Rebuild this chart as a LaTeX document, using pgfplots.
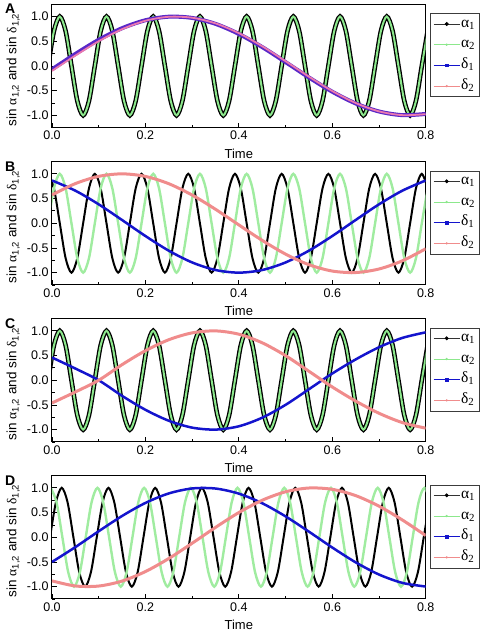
\documentclass[border=0pt]{standalone}
\usepackage{fontspec}
\setmainfont{Liberation Sans}
\newfontfamily\gr{Liberation Serif}
\usepackage{pgfplots}
\usepackage{pgfplotstable}
\pgfplotsset{compat=1.18}

\definecolor{cgreen}{RGB}{140,232,140}
\definecolor{cpale}{RGB}{160,236,160}
\definecolor{cblue}{RGB}{20,20,205}
\definecolor{cpink}{RGB}{240,140,140}
\definecolor{cmag}{RGB}{235,120,175}
\definecolor{cpurp}{RGB}{90,40,200}
\definecolor{cframe}{RGB}{60,60,60}

% alpha, phase 30 deg (s) and 120 deg (c), 10 Hz
\pgfplotstableread{
t s c
-0.00833 0 1
0.00417 0.7071 0.7071
0.01667 1 0
0.02917 0.7071 -0.7071
0.04167 0 -1
0.05417 -0.7071 -0.7071
0.06667 -1 0
0.07917 -0.7071 0.7071
0.09167 0 1
0.10417 0.7071 0.7071
0.11667 1 0
0.12917 0.7071 -0.7071
0.14167 0 -1
0.15417 -0.7071 -0.7071
0.16667 -1 0
0.17917 -0.7071 0.7071
0.19167 0 1
0.20417 0.7071 0.7071
0.21667 1 0
0.22917 0.7071 -0.7071
0.24167 0 -1
0.25417 -0.7071 -0.7071
0.26667 -1 0
0.27917 -0.7071 0.7071
0.29167 0 1
0.30417 0.7071 0.7071
0.31667 1 0
0.32917 0.7071 -0.7071
0.34167 0 -1
0.35417 -0.7071 -0.7071
0.36667 -1 0
0.37917 -0.7071 0.7071
0.39167 0 1
0.40417 0.7071 0.7071
0.41667 1 0
0.42917 0.7071 -0.7071
0.44167 0 -1
0.45417 -0.7071 -0.7071
0.46667 -1 0
0.47917 -0.7071 0.7071
0.49167 0 1
0.50417 0.7071 0.7071
0.51667 1 0
0.52917 0.7071 -0.7071
0.54167 0 -1
0.55417 -0.7071 -0.7071
0.56667 -1 0
0.57917 -0.7071 0.7071
0.59167 0 1
0.60417 0.7071 0.7071
0.61667 1 0
0.62917 0.7071 -0.7071
0.64167 0 -1
0.65417 -0.7071 -0.7071
0.66667 -1 0
0.67917 -0.7071 0.7071
0.69167 0 1
0.70417 0.7071 0.7071
0.71667 1 0
0.72917 0.7071 -0.7071
0.74167 0 -1
0.75417 -0.7071 -0.7071
0.76667 -1 0
0.77917 -0.7071 0.7071
0.79167 0 1
0.80417 0.7071 0.7071
}\alphaABC

\pgfplotstableread{
t y
-0.00417 0
0.00833 0.7071
0.02083 1
0.03333 0.7071
0.04583 0
0.05833 -0.7071
0.07083 -1
0.08333 -0.7071
0.09583 0
0.10833 0.7071
0.12083 1
0.13333 0.7071
0.14583 0
0.15833 -0.7071
0.17083 -1
0.18333 -0.7071
0.19583 0
0.20833 0.7071
0.22083 1
0.23333 0.7071
0.24583 0
0.25833 -0.7071
0.27083 -1
0.28333 -0.7071
0.29583 0
0.30833 0.7071
0.32083 1
0.33333 0.7071
0.34583 0
0.35833 -0.7071
0.37083 -1
0.38333 -0.7071
0.39583 0
0.40833 0.7071
0.42083 1
0.43333 0.7071
0.44583 0
0.45833 -0.7071
0.47083 -1
0.48333 -0.7071
0.49583 0
0.50833 0.7071
0.52083 1
0.53333 0.7071
0.54583 0
0.55833 -0.7071
0.57083 -1
0.58333 -0.7071
0.59583 0
0.60833 0.7071
0.62083 1
0.63333 0.7071
0.64583 0
0.65833 -0.7071
0.67083 -1
0.68333 -0.7071
0.69583 0
0.70833 0.7071
0.72083 1
0.73333 0.7071
0.74583 0
0.75833 -0.7071
0.77083 -1
0.78333 -0.7071
0.79583 0
0.80833 0.7071
}\alphaDone

\pgfplotstableread{
t y
-0.00278 1
0.00972 0.7071
0.02222 0
0.03472 -0.7071
0.04722 -1
0.05972 -0.7071
0.07222 0
0.08472 0.7071
0.09722 1
0.10972 0.7071
0.12222 0
0.13472 -0.7071
0.14722 -1
0.15972 -0.7071
0.17222 0
0.18472 0.7071
0.19722 1
0.20972 0.7071
0.22222 0
0.23472 -0.7071
0.24722 -1
0.25972 -0.7071
0.27222 0
0.28472 0.7071
0.29722 1
0.30972 0.7071
0.32222 0
0.33472 -0.7071
0.34722 -1
0.35972 -0.7071
0.37222 0
0.38472 0.7071
0.39722 1
0.40972 0.7071
0.42222 0
0.43472 -0.7071
0.44722 -1
0.45972 -0.7071
0.47222 0
0.48472 0.7071
0.49722 1
0.50972 0.7071
0.52222 0
0.53472 -0.7071
0.54722 -1
0.55972 -0.7071
0.57222 0
0.58472 0.7071
0.59722 1
0.60972 0.7071
0.62222 0
0.63472 -0.7071
0.64722 -1
0.65972 -0.7071
0.67222 0
0.68472 0.7071
0.69722 1
0.70972 0.7071
0.72222 0
0.73472 -0.7071
0.74722 -1
0.75972 -0.7071
0.77222 0
0.78472 0.7071
0.79722 1
0.80972 0.7071
}\alphaDtwo

\pgfplotstableread{
t d1 d2
0 -0.0700 -0.1000
0.05 0.2420 0.2100
0.1 0.5290 0.5000
0.15 0.7640 0.7440
0.2 0.9250 0.9150
0.25 0.9970 0.9950
0.3 0.9720 0.9760
0.35 0.8520 0.8620
0.4 0.6480 0.6640
0.45 0.3820 0.3990
0.5 0.0780 0.0960
0.55 -0.2330 -0.2170
0.6 -0.5220 -0.5080
0.65 -0.7590 -0.7500
0.7 -0.9220 -0.9190
0.75 -0.9960 -0.9960
0.8 -0.9720 -0.9760
}\deltaA

\pgfplotstableread{
t d1 d2
0 0.8660 0.5736
0.05 0.6593 0.8026
0.1 0.3827 0.9496
0.15 0.0654 1.0000
0.2 -0.2588 0.9485
0.25 -0.5556 0.8004
0.3 -0.7934 0.5707
0.35 -0.9469 0.2828
0.4 -1.0000 -0.0339
0.45 -0.9469 -0.3469
0.5 -0.7934 -0.6249
0.55 -0.5556 -0.8391
0.6 -0.2588 -0.9677
0.65 0.0654 -0.9978
0.7 0.3827 -0.9263
0.75 0.6593 -0.7604
0.8 0.8660 -0.5168
}\deltaB

\pgfplotstableread{
t d1 d2
0 0.460 -0.460
0.05 0.237 -0.237
0.1 0.000 0.000
0.15 -0.316 0.316
0.2 -0.598 0.598
0.25 -0.820 0.820
0.3 -0.959 0.959
0.35 -0.999 0.999
0.4 -0.932 0.932
0.45 -0.758 0.758
0.5 -0.498 0.498
0.55 -0.182 0.182
0.6 0.136 -0.136
0.65 0.421 -0.421
0.7 0.668 -0.668
0.75 0.857 -0.857
0.8 0.970 -0.970
}\deltaC

\pgfplotstableread{
t d1 d2
0 -0.5000 -0.8829
0.05 -0.1994 -0.9863
0.1 0.1219 -0.9877
0.15 0.4305 -0.8870
0.2 0.6947 -0.6947
0.25 0.8870 -0.4305
0.3 0.9877 -0.1219
0.35 0.9863 0.1994
0.4 0.8829 0.5000
0.45 0.6884 0.7490
0.5 0.4226 0.9205
0.55 0.1132 0.9969
0.6 -0.2079 0.9703
0.65 -0.5075 0.8434
0.7 -0.7547 0.6293
0.75 -0.9239 0.3502
0.8 -0.9976 0.0349
}\deltaD

\pgfplotsset{
  panel/.style={
    width=373.7pt, height=123.5pt, scale only axis,
    anchor=south west,
    xmin=0, xmax=0.8, ymin=-1.25, ymax=1.25,
    xtick={0,0.2,0.4,0.6,0.8}, minor xtick={0.1,0.3,0.5,0.7},
    ytick={-1,-0.5,0,0.5,1}, minor ytick={-1.25,-0.75,-0.25,0.25,0.75,1.25},
    tick align=inside, xtick pos=bottom, ytick pos=left,
    major tick length=5pt, minor tick length=3pt,
    every tick/.style={black, line width=0.8pt},
    axis line style={line width=1pt, black},
    tick label style={font=\fontsize{12.5}{14}\selectfont},
    /pgf/number format/assume math mode=true,
    /pgf/number format/fixed, /pgf/number format/fixed zerofill, /pgf/number format/precision=1,
    xlabel={Time},
    xlabel style={font=\fontsize{13}{14}\selectfont, at={(axis description cs:0.5,-0.21)}, anchor=center},
    ylabel={sin {\gr α}\textsubscript{1,2} and sin {\gr δ}\textsubscript{1,2}},
    ylabel style={font=\fontsize{13.5}{14}\selectfont, at={(axis description cs:-0.104,0.47)}, anchor=center, rotate=0},
    legend style={at={(1.0115,0.927)}, anchor=north west, draw=cframe, line width=0.6pt,
      font=\gr\fontsize{15.5}{15}\selectfont, inner xsep=3pt, inner ysep=3.5pt, row sep=6.7pt,
      nodes={inner sep=1pt, text height=9pt, text depth=3pt}, cells={anchor=west}},
    legend image code/.code={\draw[mark repeat=2,mark phase=2,#1] plot coordinates {(0pt,0pt) (13pt,0pt) (26pt,0pt)};},
  },
  letter/.style={extra description/.code={\node[font=\bfseries\fontsize{14}{14}\selectfont] at (-0.112,0.96) {#1};}},
}

\newcommand{\legendset}{%
  \addlegendimage{black!80, line width=0.8pt, mark=*, mark size=1.5pt, mark options={black}}
  \addlegendentry{α\textsubscript{1}}
  \addlegendimage{cgreen, line width=0.8pt, mark=*, mark size=0.7pt}
  \addlegendentry{α\textsubscript{2}}
  \addlegendimage{cblue, line width=0.8pt, mark=square*, mark size=1.3pt}
  \addlegendentry{δ\textsubscript{1}}
  \addlegendimage{cpink, line width=0.8pt, mark=*, mark size=0.7pt}
  \addlegendentry{δ\textsubscript{2}}
}

\begin{document}
\begin{tikzpicture}
\useasboundingbox (0pt,0pt) rectangle (484pt,632pt);

% ---------- A ----------
\begin{axis}[panel, letter=A, at={(52pt,504.3pt)}]
\addplot[black, line width=4.6pt, smooth, forget plot] table[x=t,y=s] {\alphaABC};
\addplot[cgreen, line width=2pt, smooth, forget plot] table[x=t,y=s] {\alphaABC};
\addplot[cpurp, line width=4pt, smooth, forget plot] table[x=t,y=d1] {\deltaA};
\addplot[cmag, line width=1.8pt, smooth, forget plot] table[x=t,y=d2] {\deltaA};
\legendset
\end{axis}

% ---------- B ----------
\begin{axis}[panel, letter=B, at={(52pt,347pt)}]
\addplot[black, line width=2pt, smooth, forget plot] table[x=t,y=c] {\alphaABC};
\addplot[cpale, line width=2.4pt, smooth, forget plot] table[x=t,y=s] {\alphaABC};
\addplot[cblue, line width=2.5pt, smooth, forget plot] table[x=t,y=d1] {\deltaB};
\addplot[cpink, line width=3pt, smooth, forget plot] table[x=t,y=d2] {\deltaB};
\legendset
\end{axis}

% ---------- C ----------
\begin{axis}[panel, letter=C, at={(52pt,190pt)}]
\addplot[black, line width=4.6pt, smooth, forget plot] table[x=t,y=s] {\alphaABC};
\addplot[cgreen, line width=2pt, smooth, forget plot] table[x=t,y=s] {\alphaABC};
\addplot[cblue, line width=2.5pt, smooth, forget plot] table[x=t,y=d1] {\deltaC};
\addplot[cpink, line width=3pt, smooth, forget plot] table[x=t,y=d2] {\deltaC};
\legendset
\end{axis}

% ---------- D ----------
\begin{axis}[panel, letter=D, at={(52pt,33pt)}]
\addplot[black, line width=2pt, smooth, forget plot] table[x=t,y=y] {\alphaDone};
\addplot[cpale, line width=2.4pt, smooth, forget plot] table[x=t,y=y] {\alphaDtwo};
\addplot[cblue, line width=2.5pt, smooth, forget plot] table[x=t,y=d1] {\deltaD};
\addplot[cpink, line width=3pt, smooth, forget plot] table[x=t,y=d2] {\deltaD};
\legendset
\end{axis}
\end{tikzpicture}
\end{document}
